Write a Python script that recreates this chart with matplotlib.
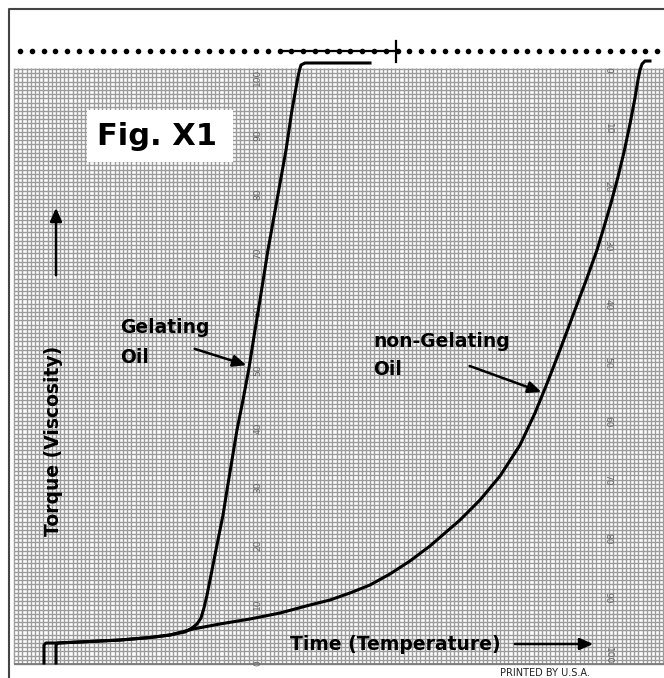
import numpy as np
import matplotlib
matplotlib.use("Agg")
import matplotlib.pyplot as plt
from matplotlib.patches import Rectangle

# -------------------------------
# Data
# time in chart units, torque on the left 0-100 scale
# -------------------------------
gel_time = [5.12, 5.12, 5.46, 7.34, 12.97, 18.09, 23.21, 26.62, 29.18, 30.38, 31.23,
            31.91, 32.42, 32.94, 33.45, 34.13, 34.81, 35.67, 36.35, 37.20, 38.05,
            39.08, 40.10, 41.13, 41.98, 43.34, 44.88, 46.42, 47.44, 48.46, 48.72,
            48.98, 49.66, 60.75]
gel_torque = [0.00, 3.07, 3.41, 3.41, 3.67, 3.92, 4.35, 4.78, 5.29, 5.97, 6.66,
              7.68, 9.39, 11.60, 14.16, 17.58, 20.99, 25.26, 29.52, 34.64, 39.76,
              44.88, 50.34, 56.83, 61.95, 70.48, 79.01, 87.54, 94.37, 100.00, 101.19,
              102.05, 102.39, 102.39]

nongel_time = [7.17, 7.17, 7.51, 12.97, 18.09, 23.21, 26.62, 30.55, 35.15, 40.27,
               45.39, 50.51, 53.92, 57.34, 60.75, 64.16, 67.58, 70.99, 76.11, 79.52,
               82.94, 86.35, 88.91, 91.13, 93.17, 95.73, 97.78, 99.49, 100.68,
               101.88, 103.07, 104.10, 105.12, 105.97, 106.48, 106.83, 107.17,
               107.68, 108.53]
nongel_torque = [0.00, 3.07, 3.41, 3.67, 3.92, 4.35, 4.78, 5.80, 6.66, 7.51,
                 8.53, 9.90, 10.75, 11.95, 13.31, 15.19, 17.41, 19.97, 24.40, 27.82,
                 31.91, 37.20, 42.66, 48.12, 53.41, 60.24, 65.70, 70.48, 74.40,
                 78.50, 82.94, 87.20, 91.98, 96.42, 99.49, 101.19, 102.22,
                 102.73, 102.73]

scale_values = [0, 10, 20, 30, 40, 50, 60, 70, 80, 90, 100]
left_scale_time = 41.6
right_scale_time = 101.4

W, H = 664, 678
fig = plt.figure(figsize=(W / 100, H / 100), dpi=100)

# -------------------------------
# Page (pixel coordinates)
# -------------------------------
ax = fig.add_axes([0, 0, 1, 1])
ax.set_xlim(0, W)
ax.set_ylim(H, 0)
ax.axis("off")
ax.set_zorder(1)

# chart paper grid
gx0, gx1, gy0, gy1 = 14, 664, 68, 664
step = 4.19
ax.vlines(np.arange(gx0, gx1 + 0.1, step), gy0, gy1, color="#9c9c9c", lw=1.0, zorder=1)
ax.hlines(np.arange(gy1, gy0 - 0.1, -step), gx0, gx1, color="#9c9c9c", lw=1.0, zorder=1)
ax.hlines(gy1, gx0, gx1, color="#7a7a7a", lw=1.3, zorder=1)

# frame
ax.plot([9, 9, W], [H, 9, 9], color="#444444", lw=1.5, solid_capstyle="butt")

# dotted line with the pen marker
dots_x = np.arange(20, W, 11.8)
ax.plot(dots_x, np.full(len(dots_x), 51), "o", color="black", ms=3.0)
ax.plot([283, 396], [51, 51], color="black", lw=1.6)
ax.plot([396, 396], [41, 62], color="black", lw=1.6)

# figure tag
ax.add_patch(Rectangle((87, 110), 146, 52, facecolor="white", edgecolor="none", zorder=3))
ax.text(97, 145, "Fig. X1", fontsize=22, fontweight="bold", ha="left", va="baseline", zorder=4)

# axis titles
ax.text(54, 441, "Torque (Viscosity)", fontsize=13.5, fontweight="bold",
        rotation=90, ha="center", va="center", zorder=4)
ax.annotate("", xy=(56, 205), xytext=(56, 278),
            arrowprops=dict(arrowstyle="-|>,head_length=0.5,head_width=0.22", lw=1.8,
                            color="black", mutation_scale=16), zorder=4)
ax.text(290, 650, "Time (Temperature)", fontsize=13.5, fontweight="bold",
        ha="left", va="baseline", zorder=4)
ax.annotate("", xy=(596, 644), xytext=(512, 644),
            arrowprops=dict(arrowstyle="-|>,head_length=0.5,head_width=0.22", lw=1.8,
                            color="black", mutation_scale=16), zorder=4)

# curve labels
ax.text(120, 333, "Gelating", fontsize=13.5, fontweight="bold", ha="left", va="baseline", zorder=4)
ax.text(120, 363, "Oil", fontsize=13.5, fontweight="bold", ha="left", va="baseline", zorder=4)
ax.annotate("", xy=(249, 366), xytext=(192, 348),
            arrowprops=dict(arrowstyle="-|>,head_length=0.5,head_width=0.22", lw=1.8,
                            color="black", mutation_scale=16), zorder=4)
ax.text(373, 347, "non-Gelating", fontsize=13.5, fontweight="bold", ha="left", va="baseline", zorder=4)
ax.text(373, 375, "Oil", fontsize=13.5, fontweight="bold", ha="left", va="baseline", zorder=4)
ax.annotate("", xy=(544, 393), xytext=(467, 365),
            arrowprops=dict(arrowstyle="-|>,head_length=0.5,head_width=0.22", lw=1.8,
                            color="black", mutation_scale=16), zorder=4)

ax.text(500, 676, "PRINTED BY U.S.A.", fontsize=7, color="#222222", ha="left", va="baseline")

# -------------------------------
# Chart (torque scale units)
# -------------------------------
cax = fig.add_axes([gx0 / W, (H - gy1) / H, (gx1 - gx0) / W, (gy1 - gy0) / H])
cax.set_zorder(2)
cax.patch.set_visible(False)
cax.axis("off")
cax.set_xlim(0, (gx1 - gx0) / 5.86)
cax.set_ylim((663 - gy1) / 5.86, (663 - gy0) / 5.86)

for v in scale_values:
    cax.text(left_scale_time, v, str(v), fontsize=6.5, color="#666666",
             rotation=90, ha="center", va="center", zorder=3)
    cax.text(right_scale_time, 101.2 - v, str(v), fontsize=6.5, color="#666666",
             rotation=-90, ha="center", va="center", zorder=3)

cax.plot(gel_time, gel_torque, color="black", lw=2.2, clip_on=False, zorder=5,
         solid_joinstyle="round")
cax.plot(nongel_time, nongel_torque, color="black", lw=2.2, clip_on=False, zorder=5,
         solid_joinstyle="round")

fig.savefig("out.png", dpi=100)
